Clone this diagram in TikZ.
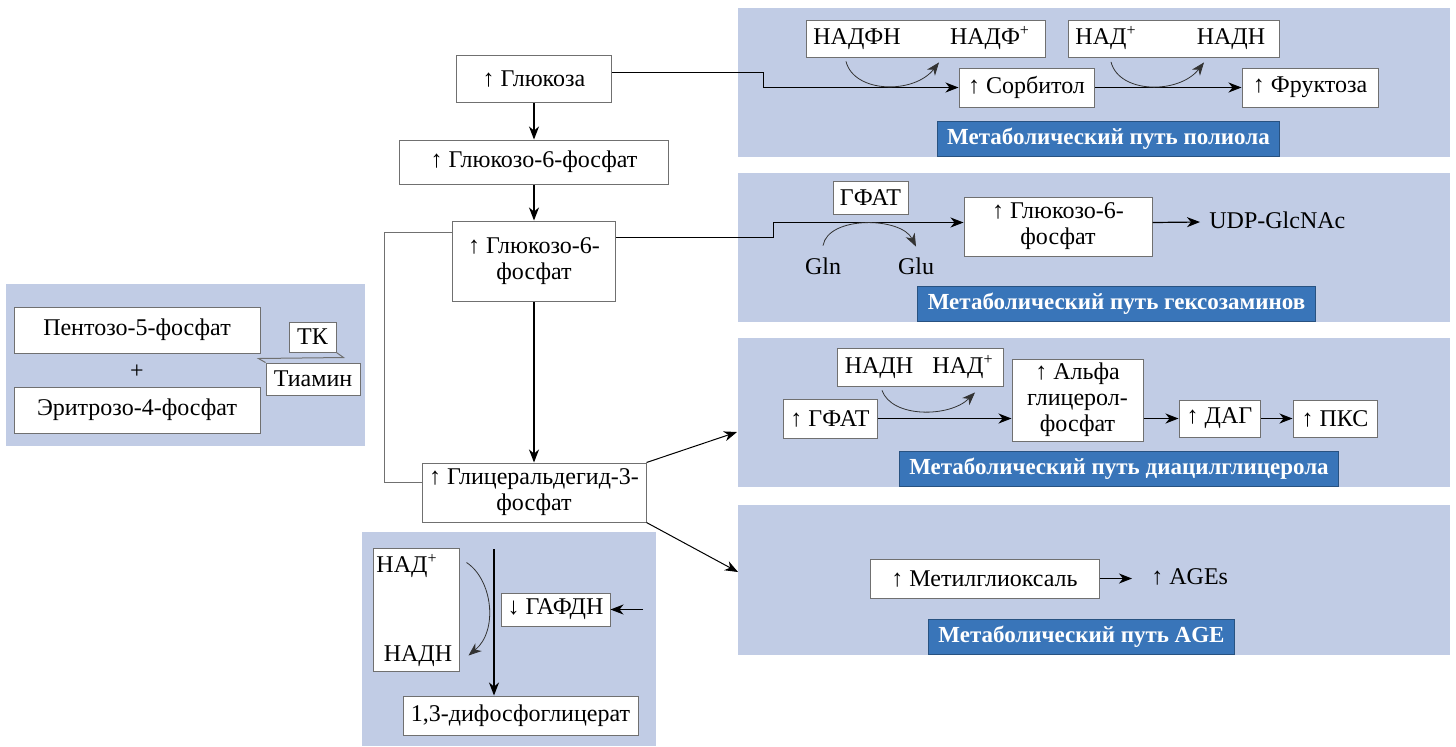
\documentclass[tikz,border=0pt]{standalone}
\usepackage{fontspec}
\setmainfont{Liberation Serif}
\usetikzlibrary{positioning,calc,backgrounds,arrows.meta}

\definecolor{panelblue}{RGB}{193,204,229}
\definecolor{tagblue}{RGB}{57,117,185}
\definecolor{framegray}{RGB}{112,112,112}

\begin{document}
\begin{tikzpicture}[
		x=0.5pt, y=-0.5pt,
		>={Stealth[length=6.5pt,width=5pt,inset=2pt]},
		font=\fontsize{12}{13}\selectfont,
		sz/.style 2 args={minimum width=#1*0.5pt, minimum height=#2*0.5pt},
		stage/.style={rectangle, draw=framegray, fill=white, line width=0.5pt, align=center, inner sep=1pt},
		word/.style={inner sep=0pt, text height=8pt, text depth=2pt},
		panel/.style={rectangle, fill=panelblue, inner sep=0pt},
		tagit/.style={
				rectangle,
				fill=tagblue,
				draw=tagblue!70!black,
				line width=0.4pt,
				text=white,
				font=\fontsize{11.5}{13}\selectfont\bfseries,
				anchor=south,
				minimum height=16.5pt,
				inner xsep=5pt
			},
		flow/.style={line width=0.6pt},
		link/.style={draw=framegray, line width=0.5pt},
		swing/.style={->, line width=0.4pt, black!80}
	]

	\useasboundingbox (0,0) rectangle (1456,746);

	\begin{scope}[on background layer]
		\node[panel, sz={712}{149}] (polyol) at (1094,82.5) {};
		\node[panel, sz={712}{149}] (hexo) at (1094,247.5) {};
		\node[panel, sz={712}{149}] (diacyl) at (1094,412.5) {};
		\node[panel, sz={712}{150}] (ageway) at (1094,580) {};
		\node[panel, sz={359}{162}] (pentose) at (185.5,365) {};
		\node[panel, sz={294}{214}] (gapdhway) at (509,639) {};
	\end{scope}

	% main column
	\node[stage, sz={155}{47}] (glc) at (534,78.5) {↑ Глюкоза};
	\node[stage, sz={269}{44}] (g6p) at (534,162) {↑ Глюкозо-6-фосфат}
	edge [<-, flow] (glc);
	\node[stage, sz={163}{80}] (g6pb) at (534,261) {↑ Глюкозо-6-\\фосфат}
	edge [<-, flow] (g6p);
	\node[stage, sz={224}{59}] (ga3p) at (534,492.5) {↑ Глицеральдегид-3-\\фосфат}
	edge [<-, flow] (g6pb);
	\draw[link] ([yshift=-6pt]g6pb.north west) -- ++(-68,0) |- ([yshift=5pt]ga3p.west);

	\coordinate (todag) at (737,432);
	\coordinate (toage) at (738,572);
	\draw[->, line width=0.5pt] (ga3p.north east) -- (todag);
	\draw[->, line width=0.5pt] (ga3p.south east) -- (toage);

	% polyol
	\node[stage, sz={239}{37}] (cof1) at (925.5,38.5) {};
	\node[word] (nadph) at (857,38.5) {НАДФН};
	\node[word] (nadpp) at (990,38.5) {НАДФ\textsuperscript{+}};
	\node[stage, sz={211}{37}] (cof2) at (1174,38.5) {};
	\node[word] (nadp2) at (1106,38.5) {НАД\textsuperscript{+}};
	\node[word] (nadh2) at (1231,38.5) {НАДН};
	\node[stage, sz={135}{39}] (sorb) at (1026.5,87.5) {↑ Сорбитол};
	\node[stage, sz={136}{39}] (fruc) at (1310,87.5) {↑ Фруктоза}
	edge [<-, flow] (sorb);
	\draw[->, line width=0.5pt] ([yshift=3pt]glc.east) -- ++(151,0) |- (sorb.west);
	\draw[swing] ([xshift=-5.5pt,yshift=-6.25pt]nadph.south) .. controls +(8,32) and +(-25,32) .. ([xshift=-25.5pt,yshift=-6.75pt]nadpp.south);
	\draw[swing] ([xshift=2.5pt,yshift=-6.5pt]nadp2.south) .. controls +(8,32) and +(-25,32) .. ([xshift=-13.5pt,yshift=-6.75pt]nadh2.south);
	\node[tagit] (polyoltag) at (1108.5,157) {Метаболический путь полиола};

	% hexosamines
	\node[stage, sz={75}{33}] (gfat) at (870.5,197.5) {ГФАТ};
	\node[stage, sz={188}{59}] (hexg) at (1058,226.5) {↑ Глюкозо-6-\\фосфат};
	\node[word, anchor=west] (udp) at (1209,222) {UDP-GlcNAc};
	\draw[->, flow] ([yshift=2pt]hexg.east) -- ([xshift=-4.5pt]udp.west);
	\draw[->, line width=0.5pt] ([yshift=12pt]g6pb.east) -- ++(157,0) |- ([yshift=2pt]hexg.west);
	\node[word] (gln) at (823,268) {Gln};
	\node[word] (glu) at (916,268) {Glu};
	\draw[swing] ([yshift=6pt]gln.north) .. controls +(5,-30) and +(-15,-30) .. ([yshift=5.5pt]glu.north);
	\node[tagit] (hexotag) at (1116.5,322) {Метаболический путь гексозаминов};

	% diacylglycerol
	\node[stage, sz={166}{38}] (cof3) at (920,367) {};
	\node[word] (nadh3) at (879,367) {НАДН};
	\node[word] (nadp3) at (963,367) {НАД\textsuperscript{+}};
	\node[stage, sz={94}{39}] (gfat2) at (830,418.5) {↑ ГФАТ};
	\node[stage, sz={131}{82}] (alpha) at (1077.5,400) {↑ Альфа\\глицерол-\\фосфат};
	\node[stage, sz={81}{37}] (dag) at (1219.5,418.5) {↑ ДАГ};
	\node[stage, sz={84}{37}] (pkc) at (1335,418.5) {↑ ПКС}
	edge [<-, flow] (dag);
	\draw[->, flow] (gfat2.east) -- (gfat2.east -| alpha.west);
	\draw[->, flow] (alpha.east |- dag.west) -- (dag.west);
	\draw[swing] ([xshift=1.5pt,yshift=-6.5pt]nadh3.south) .. controls +(10,28) and +(-25,25) .. ([xshift=6pt,yshift=-7.5pt]nadp3.south);
	\node[tagit] (diacyltag) at (1119,487) {Метаболический путь диацилглицерола};

	% AGE
	\node[stage, sz={229}{39}] (mgo) at (984.5,578.5) {↑ Метилглиоксаль};
	\node[word, anchor=west] (ages) at (1151,578.5) {↑ AGEs};
	\draw[->, flow] (mgo.east) -- ([xshift=-9.5pt]ages.west);
	\node[tagit] (agetag) at (1081.5,655) {Метаболический путь AGE};

	% pentose phosphate
	\node[stage, sz={246}{46}] (pent) at (137,330) {Пентозо-5-фосфат};
	\node[word] (plus) at (137,372) {+};
	\node[stage, sz={246}{46}] (eryth) at (137,410) {Эритрозо-4-фосфат};
	\node[stage, sz={47}{30}] (tk) at (312.5,337) {ТК};
	\node[stage, sz={94}{32}] (thia) at (313,379) {Тиамин};
	\draw[link] (tk.south east) -- ++(7,5) -- ++(-85,1) -- (thia.north west);

	% GAPDH
	\node[stage, sz={86}{123}] (cof4) at (416,609.5) {};
	\node[word] (nadp4) at (407,566) {НАД\textsuperscript{+}};
	\node[word] (nadh4) at (418,655) {НАДН};
	\node[stage, sz={109}{33}] (gapdh) at (555.5,609.5) {↓ ГАФДН};
	\node[stage, sz={235}{39}] (bpg) at (520.5,715.5) {1,3-дифосфоглицерат};
	\coordinate (split) at (494,549);
	\coordinate (inhib) at (643,609.5);
	\draw[->, flow] (split) -- (split |- bpg.north);
	\draw[->, flow] (inhib) -- (gapdh.east);
	\draw[swing] ([xshift=3.5pt,yshift=-7.5pt]cof4.north east) .. controls +(26,17) and +(30,-25) .. ([xshift=4.5pt,yshift=8pt]cof4.south east);
\end{tikzpicture}
\end{document}
